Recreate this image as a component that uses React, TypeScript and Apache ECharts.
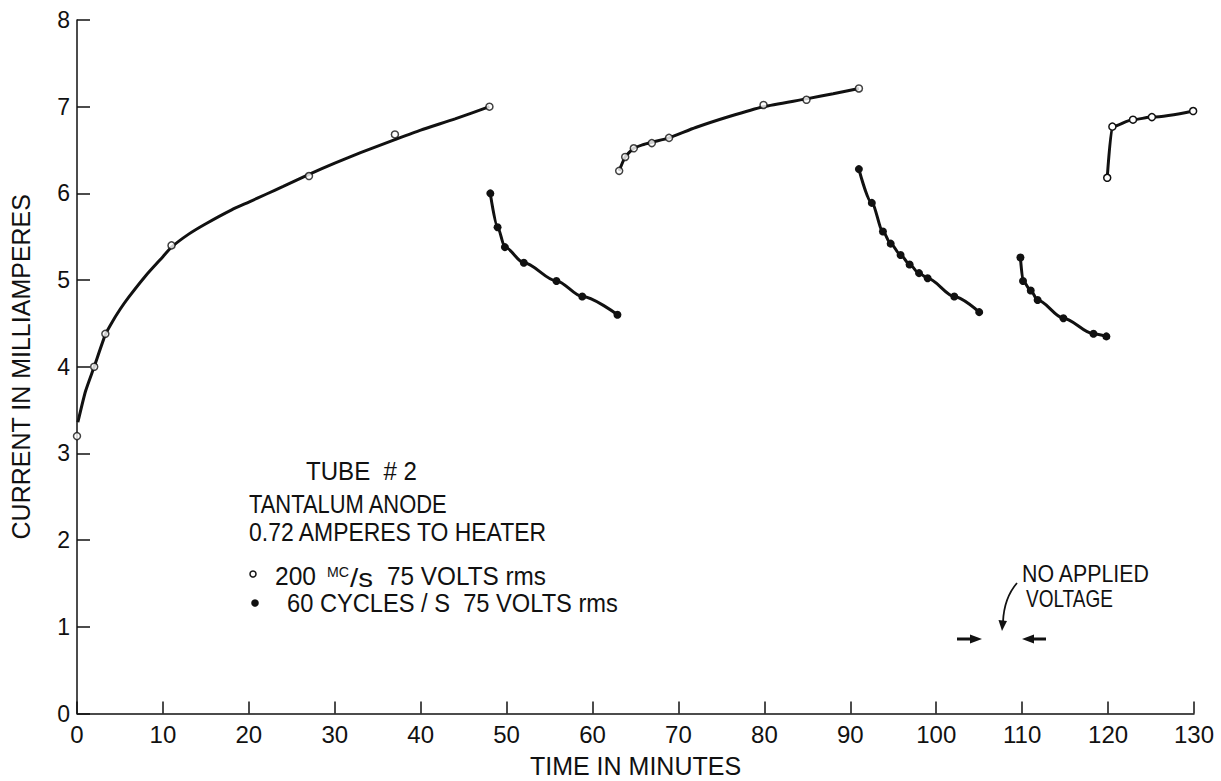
import React, { useEffect, useRef } from "react";
import * as echarts from "echarts";

// ---- data ----
// 200 MC/s runs (open circles)
const run1Time = [0, 2, 3.3, 11, 27, 37, 48];
const run1Current = [3.2, 4.0, 4.38, 5.4, 6.2, 6.68, 7.0];
// hand-drawn fitted curve of the first run
const fit1Time = [0.1, 1, 2, 3.3, 4, 5, 6, 8, 10, 11, 13, 15, 18, 20, 22, 24, 27, 30, 33, 37, 40, 44, 48];
const fit1Current = [3.36, 3.72, 4.0, 4.37, 4.5, 4.66, 4.8, 5.05, 5.27, 5.38, 5.53, 5.65, 5.81, 5.9, 5.99, 6.08, 6.22, 6.35, 6.47, 6.62, 6.73, 6.86, 7.0];

const run3Time = [63.1, 63.8, 64.8, 66.9, 68.9, 79.9, 84.9, 91.0];
const run3Current = [6.26, 6.42, 6.52, 6.58, 6.64, 7.02, 7.08, 7.21];
// hand-drawn curve of the third run
const fit3Time = [63.1, 63.8, 64.8, 65.8, 66.9, 68.9, 72, 76, 79.9, 84.9, 88, 91.0];
const fit3Current = [6.26, 6.42, 6.52, 6.56, 6.59, 6.64, 6.76, 6.89, 7.0, 7.09, 7.15, 7.21];

const run6Time = [119.9, 120.5, 122.9, 125.1, 129.9];
const run6Current = [6.18, 6.77, 6.85, 6.88, 6.95];

// 60 cycles/s runs (filled dots)
const run2Time = [48.1, 48.95, 49.8, 52.0, 55.8, 58.8, 62.9];
const run2Current = [6.0, 5.61, 5.38, 5.2, 4.99, 4.81, 4.6];

const run4Time = [91.0, 92.5, 93.8, 94.7, 95.85, 96.9, 98.0, 99.0, 102.1, 105.0];
const run4Current = [6.28, 5.89, 5.56, 5.42, 5.29, 5.18, 5.08, 5.02, 4.81, 4.63];

const run5Time = [109.8, 110.1, 111.0, 111.8, 114.8, 118.3, 119.8];
const run5Current = [5.26, 4.99, 4.88, 4.77, 4.56, 4.38, 4.35];

const xTicks = { min: 0, max: 130, interval: 10 };
const yTicks = { min: 0, max: 8, interval: 1 };

const FONT = "'Liberation Sans', Arial, Helvetica, sans-serif";
const INK = "#111";

const zip = (a: number[], b: number[]) => a.map((v, i) => [v, b[i]]);

function measure(text: string, size: number): number {
  const ctx = document.createElement("canvas").getContext("2d");
  if (!ctx) return text.length * size * 0.6;
  ctx.font = `${size}px ${FONT}`;
  return ctx.measureText(text).width;
}

function label(text: string, left: number, right: number, cy: number, size: number) {
  const w = measure(text, size);
  return {
    type: "text",
    x: left,
    y: cy,
    scaleX: (right - left) / w,
    z: 10,
    style: {
      text,
      x: 0,
      y: 0,
      fontSize: size,
      fontFamily: FONT,
      fill: INK,
      textAlign: "left",
      textVerticalAlign: "middle",
    },
  };
}

export default function App() {
  const ref = useRef<HTMLDivElement>(null);

  useEffect(() => {
    document.body.style.margin = "0";
    if (!ref.current) return;
    const chart = echarts.init(ref.current, null, { renderer: "svg" });

    const curve = (data: number[][], smooth: number) => ({
      type: "line",
      data,
      smooth,
      showSymbol: false,
      symbol: "none",
      lineStyle: { color: INK, width: 3 },
      z: 2,
    });
    const openMarks = (data: number[][]) => ({
      type: "scatter",
      data,
      symbol: "circle",
      symbolSize: 7,
      itemStyle: { color: "#fff", borderColor: INK, borderWidth: 1.5 },
      z: 4,
    });
    const openLine = (data: number[][]) => ({
      type: "line",
      data,
      smooth: 0.3,
      smoothMonotone: "x",
      symbol: "circle",
      symbolSize: 7,
      lineStyle: { color: INK, width: 3 },
      itemStyle: { color: "#fff", borderColor: INK, borderWidth: 1.5 },
      z: 3,
    });
    const dotLine = (data: number[][]) => ({
      type: "line",
      data,
      smooth: 0.3,
      smoothMonotone: "x",
      symbol: "circle",
      symbolSize: 8,
      lineStyle: { color: INK, width: 3 },
      itemStyle: { color: INK },
      z: 3,
    });

    const option: any = {
      animation: false,
      backgroundColor: "#fff",
      grid: { left: 77, top: 20, width: 1117, height: 693.5, outerBoundsMode: "none", containLabel: false },
      xAxis: {
        type: "value",
        ...xTicks,
        name: "TIME IN MINUTES",
        nameLocation: "middle",
        nameGap: 40,
        nameTextStyle: { fontFamily: FONT, fontSize: 25, color: INK },
        axisLine: { show: true, lineStyle: { color: INK, width: 1.5 } },
        axisTick: { show: true, inside: true, length: 12, lineStyle: { color: INK, width: 1.5 } },
        axisLabel: { fontFamily: FONT, fontSize: 24, color: INK, margin: 9 },
        splitLine: { show: false },
      },
      yAxis: {
        type: "value",
        ...yTicks,
        name: "CURRENT IN MILLIAMPERES",
        nameLocation: "middle",
        nameGap: 44,
        nameRotate: 90,
        nameTextStyle: { fontFamily: FONT, fontSize: 25, color: INK },
        axisLine: { show: true, lineStyle: { color: INK, width: 1.5 } },
        axisTick: { show: true, inside: true, length: 13, lineStyle: { color: INK, width: 1.5 } },
        axisLabel: { fontFamily: FONT, fontSize: 23, color: INK, margin: 7 },
        splitLine: { show: false },
      },
      series: [
        curve(zip(fit1Time, fit1Current), 0.2),
        openMarks(zip(run1Time, run1Current)),
        dotLine(zip(run2Time, run2Current)),
        curve(zip(fit3Time, fit3Current), 0.2),
        openMarks(zip(run3Time, run3Current)),
        dotLine(zip(run4Time, run4Current)),
        dotLine(zip(run5Time, run5Current)),
        openLine(zip(run6Time, run6Current)),
      ],
      graphic: [
        label("TUBE  # 2", 306, 417, 471, 25),
        label("TANTALUM ANODE", 249, 448, 504, 25),
        label("0.72 AMPERES TO HEATER", 249, 548, 532, 25),
        {
          type: "circle",
          shape: { cx: 253, cy: 574, r: 3 },
          style: { fill: "#fff", stroke: INK, lineWidth: 1.5 },
        },
        label("200", 275, 316, 576, 25),
        label("MC", 327, 349, 572, 15),
        label("/s", 350, 373, 578, 25),
        label("75 VOLTS rms", 387, 546, 576, 25),
        {
          type: "circle",
          shape: { cx: 255, cy: 603, r: 3.8 },
          style: { fill: INK },
        },
        label("60 CYCLES / S  75 VOLTS rms", 287, 618, 603, 25),
        label("NO APPLIED", 1022, 1150, 574, 24),
        label("VOLTAGE", 1026, 1113, 599, 24),
        {
          type: "bezierCurve",
          shape: { x1: 1017, y1: 583, x2: 1003, y2: 622, cpx1: 1004, cpy1: 598 },
          style: { stroke: INK, lineWidth: 1.8, fill: "none" },
        },
        {
          type: "polygon",
          shape: { points: [[1002, 631], [998.5, 620], [1007, 621]] },
          style: { fill: INK },
        },
        {
          type: "line",
          shape: { x1: 957, y1: 639, x2: 973, y2: 639 },
          style: { stroke: INK, lineWidth: 3 },
        },
        {
          type: "polygon",
          shape: { points: [[970, 634.5], [982, 639], [970, 643.5]] },
          style: { fill: INK },
        },
        {
          type: "line",
          shape: { x1: 1031, y1: 639, x2: 1046, y2: 639 },
          style: { stroke: INK, lineWidth: 3 },
        },
        {
          type: "polygon",
          shape: { points: [[1022, 639], [1034, 634.5], [1034, 643.5]] },
          style: { fill: INK },
        },
      ],
    };

    chart.setOption(option);
    return () => chart.dispose();
  }, []);

  return <div ref={ref} style={{ width: 1221, height: 781 }} />;
}
